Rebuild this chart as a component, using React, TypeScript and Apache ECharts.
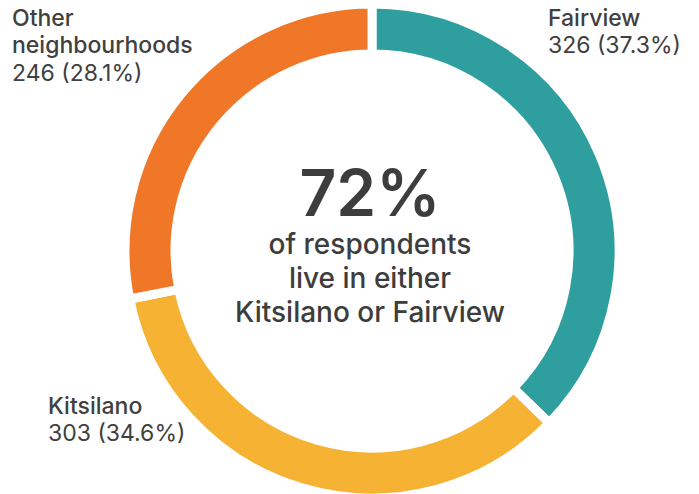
import React, { useEffect, useRef } from "react";
import * as echarts from "echarts";

const categories = ["Fairview", "Kitsilano", "Other neighbourhoods"];
const counts = [326, 303, 246];
const percents = ["37.3%", "34.6%", "28.1%"];
const labelNames = ["Fairview", "Kitsilano", "Other\nneighbourhoods"];
const colors = ["#2e9e9f", "#f6b233", "#f07727"];
const headline = "72%";
const subtitle = "of respondents\nlive in either\nKitsilano or Fairview";

export default function App() {
  const ref = useRef<HTMLDivElement>(null);
  useEffect(() => {
    document.body.style.margin = "0";
    const chart = echarts.init(ref.current!, null, { renderer: "svg" });
    const labelPos = [
      { left: 548, top: 6 },
      { left: 48, top: 394 },
      { left: 12, top: 6 },
    ];
    const font = "Inter, 'Noto Sans', sans-serif";
    chart.setOption({
      animation: false,
      backgroundColor: "#ffffff",
      series: [
        {
          type: "pie",
          center: [372, 251],
          radius: [197, 247],
          startAngle: 90,
          clockwise: true,
          label: { show: false },
          labelLine: { show: false },
          emphasis: { disabled: true },
          itemStyle: { borderColor: "#ffffff", borderWidth: 9 },
          data: categories.map((c, i) => ({
            name: c,
            value: counts[i],
            itemStyle: { color: colors[i] },
          })),
        },
      ],
      graphic: [
        ...categories.map((c, i) => ({
          type: "text",
          left: labelPos[i].left,
          top: labelPos[i].top,
          style: {
            text: `{n|${labelNames[i]}}\n{v|${counts[i]} (${percents[i]})}`,
            rich: {
              n: { fontFamily: font, fontSize: 23, fontWeight: 500, fill: "#404040", lineHeight: 27.5 },
              v: { fontFamily: font, fontSize: 23, fontWeight: 400, fill: "#404040", lineHeight: 27.5 },
            },
          },
        })),
        {
          type: "text",
          x: 370,
          y: 192,
          style: {
            text: headline,
            fontFamily: font,
            fontSize: 64,
            fontWeight: 600,
            fill: "#3d3d3d",
            align: "center",
            verticalAlign: "middle",
          },
        },
        {
          type: "text",
          x: 370,
          y: 278,
          style: {
            text: subtitle,
            fontFamily: font,
            fontSize: 28,
            fontWeight: 500,
            lineHeight: 34,
            fill: "#3d3d3d",
            align: "center",
            verticalAlign: "middle",
          },
        },
      ],
    });
    return () => chart.dispose();
  }, []);
  return <div ref={ref} style={{ width: 699, height: 494 }} />;
}
